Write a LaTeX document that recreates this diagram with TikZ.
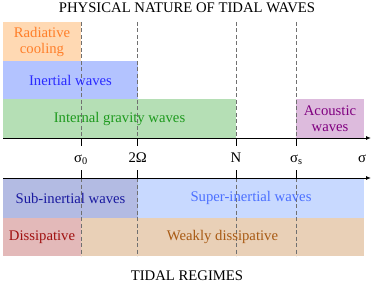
\documentclass[tikz,border=0pt]{standalone}
\usepackage{fontspec}
\setmainfont{Liberation Serif}
\newfontfamily\tmsfont{Liberation Serif}
\usetikzlibrary{arrows.meta}
\definecolor{radfill}{HTML}{FFD9B3}\definecolor{radtext}{HTML}{FF7F2A}
\definecolor{inerfill}{HTML}{B3C3FF}\definecolor{inertext}{HTML}{2A2AFF}
\definecolor{igwfill}{HTML}{B5DFB5}\definecolor{igwtext}{HTML}{1E9A1E}
\definecolor{acfill}{HTML}{DDBBDD}\definecolor{actext}{HTML}{800080}
\definecolor{subfill}{HTML}{B3BBE3}\definecolor{subtext}{HTML}{1A1AA0}
\definecolor{supfill}{HTML}{C8D9FF}\definecolor{suptext}{HTML}{4C70FF}
\definecolor{dissfill}{HTML}{E3B9B9}\definecolor{disstext}{HTML}{A01010}
\definecolor{wdfill}{HTML}{E9D0B7}\definecolor{wdtext}{HTML}{A85A14}
\definecolor{dashgray}{HTML}{707070}
\tikzset{
  lbl/.style={font=\tmsfont\fontsize{14.7}{16}\selectfont, inner sep=0pt, align=center},
  vdash/.style={draw=dashgray, line width=0.8pt, dash pattern=on 4pt off 2.5pt},
  tickmark/.style={draw=black, line width=0.9pt},
  axis/.style={draw=black, line width=0.9pt, -{Latex[length=5pt,width=4pt]}},
}
\begin{document}
\begin{tikzpicture}[x=1pt,y=-1pt]
\useasboundingbox (0,0) rectangle (374,283);
% upper fills
\fill[radfill] (3,22) rectangle (81,61);
\fill[inerfill] (3,61) rectangle (138,99);
\fill[igwfill] (3,99) rectangle (236,138);
\fill[acfill] (296,99) rectangle (364,138);
% lower fills
\fill[subfill] (3,178) rectangle (138,217.5);
\fill[supfill] (138,178) rectangle (364,217.5);
\fill[dissfill] (3,217.5) rectangle (81,256);
\fill[wdfill] (81,217.5) rectangle (364,256);
% coordinates
\coordinate (s0t) at (81,22); \coordinate (s0a) at (81,138); \coordinate (s0b) at (81,178); \coordinate (s0e) at (81,256);
\coordinate (omt) at (137.7,22); \coordinate (oma) at (137.7,138); \coordinate (omb) at (137.7,178); \coordinate (ome) at (137.7,256);
\coordinate (nt) at (236,22); \coordinate (na) at (236,138); \coordinate (nb) at (236,178); \coordinate (ne) at (236,256);
\coordinate (sst) at (296.3,22); \coordinate (ssa) at (296.3,138); \coordinate (ssb) at (296.3,178); \coordinate (sse) at (296.3,256);
% dashed lines
\foreach \p in {s0,om,n,ss}{
  \draw[vdash] (\p t) -- (\p a);
  \draw[vdash] (\p b) -- (\p e);
  \draw[tickmark] (\p a) -- ++(0,8);
  \draw[tickmark] (\p b) -- ++(0,-8);
}
% axes
\coordinate (ua0) at (3,138); \coordinate (ua1) at (371,138);
\coordinate (la0) at (3,178); \coordinate (la1) at (371,178);
\draw[axis] (ua0) -- (ua1);
\draw[axis] (la0) -- (la1);
% texts
\node[lbl, text=radtext] (rad) at (42,41.5) {Radiative\\cooling};
\node[lbl, text=inertext] (iner) at (70.5,80) {Inertial waves};
\node[lbl, text=igwtext] (igw) at (119.5,118.5) {Internal gravity waves};
\node[lbl, text=actext] (ac) at (330,118.5) {Acoustic\\waves};
\node[lbl, text=subtext] (sub) at (70.5,198) {Sub-inertial waves};
\node[lbl, text=suptext] (sup) at (251,198) {Super-inertial waves};
\node[lbl, text=disstext] (diss) at (42,237) {Dissipative};
\node[lbl, text=wdtext] (wd) at (222.5,237) {Weakly dissipative};
% axis labels
\node[lbl, anchor=base] (ls0) at (81,162) {σ\textsubscript{0}};
\node[lbl, anchor=base] (lom) at (137.7,162) {2Ω};
\node[lbl, anchor=base] (ln) at (236,162) {N};
\node[lbl, anchor=base] (lss) at (296.3,162) {σ\textsubscript{s}};
\node[lbl, anchor=base] (lsig) at (362,162) {σ};
% titles
\node[lbl, anchor=base] (t1) at (187,13) {PHYSICAL NATURE OF TIDAL WAVES};
\node[lbl, anchor=base] (t2) at (187,280) {TIDAL REGIMES};
\end{tikzpicture}
\end{document}
